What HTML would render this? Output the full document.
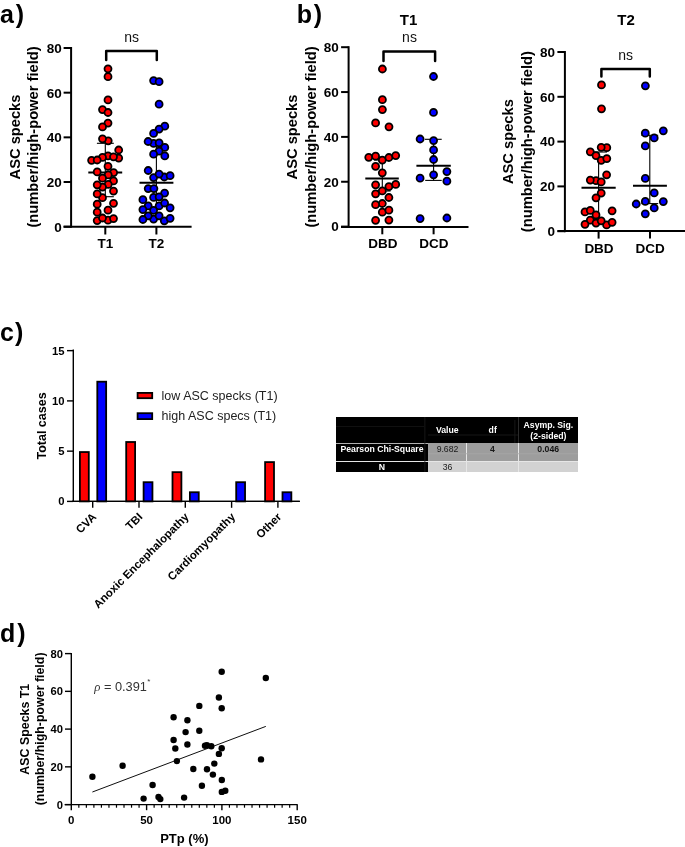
<!DOCTYPE html>
<html><head><meta charset="utf-8"><style>
html,body{margin:0;padding:0;background:#fff;}
svg{display:block;font-family:"Liberation Sans", sans-serif;will-change:transform;}
</style></head><body>
<svg width="685" height="847" viewBox="0 0 685 847">
<rect width="685" height="847" fill="#fff"/>
<text x="0.0" y="22.7" font-size="25" font-weight="bold" text-anchor="start" fill="#000" >a<tspan dx="1.8">)</tspan></text>
<line x1="71.1" y1="47.0" x2="71.1" y2="227.7" stroke="#000" stroke-width="2"/>
<line x1="63.599999999999994" y1="226.7" x2="71.1" y2="226.7" stroke="#000" stroke-width="2"/>
<text x="61.8" y="231.56" font-size="13.5" font-weight="bold" text-anchor="end" fill="#000" >0</text>
<line x1="63.599999999999994" y1="182.02499999999998" x2="71.1" y2="182.02499999999998" stroke="#000" stroke-width="2"/>
<text x="61.8" y="186.885" font-size="13.5" font-weight="bold" text-anchor="end" fill="#000" >20</text>
<line x1="63.599999999999994" y1="137.35" x2="71.1" y2="137.35" stroke="#000" stroke-width="2"/>
<text x="61.8" y="142.20999999999998" font-size="13.5" font-weight="bold" text-anchor="end" fill="#000" >40</text>
<line x1="63.599999999999994" y1="92.67499999999998" x2="71.1" y2="92.67499999999998" stroke="#000" stroke-width="2"/>
<text x="61.8" y="97.53499999999998" font-size="13.5" font-weight="bold" text-anchor="end" fill="#000" >60</text>
<line x1="63.599999999999994" y1="48.0" x2="71.1" y2="48.0" stroke="#000" stroke-width="2"/>
<text x="61.8" y="52.86" font-size="13.5" font-weight="bold" text-anchor="end" fill="#000" >80</text>
<line x1="63.6" y1="226.7" x2="191.6" y2="226.7" stroke="#000" stroke-width="2"/>
<line x1="105.3" y1="226.7" x2="105.3" y2="234.5" stroke="#000" stroke-width="2"/>
<line x1="156.4" y1="226.7" x2="156.4" y2="234.5" stroke="#000" stroke-width="2"/>
<text x="105.3" y="248.3" font-size="13.5" font-weight="bold" text-anchor="middle" fill="#000" >T1</text>
<text x="156.4" y="248.3" font-size="13.5" font-weight="bold" text-anchor="middle" fill="#000" >T2</text>
<text x="0" y="0" font-size="14.7" font-weight="bold" text-anchor="middle" transform="translate(19.9,137.0) rotate(-90)">ASC specks</text>
<text x="0" y="0" font-size="14.7" font-weight="bold" text-anchor="middle" transform="translate(38.4,137.0) rotate(-90)">(number/high-power field)</text>
<path d="M106.2,60.0 V50.9 H156.8 V60.0" fill="none" stroke="#000" stroke-width="2.5" stroke-linejoin="round" stroke-linecap="round"/>
<text x="131.7" y="42.0" font-size="14" font-weight="normal" text-anchor="middle" fill="#111" >ns</text>
<line x1="105.3" y1="143.3" x2="105.3" y2="196.7" stroke="#000" stroke-width="1.1"/>
<line x1="96.9" y1="143.3" x2="113.8" y2="143.3" stroke="#000" stroke-width="1.1"/>
<line x1="96.9" y1="196.7" x2="113.8" y2="196.7" stroke="#000" stroke-width="1.1"/>
<line x1="156.4" y1="144.5" x2="156.4" y2="219" stroke="#000" stroke-width="1.1"/>
<line x1="148" y1="144.5" x2="165" y2="144.5" stroke="#000" stroke-width="1.1"/>
<line x1="148" y1="219" x2="165" y2="219" stroke="#000" stroke-width="1.1"/>
<line x1="88.3" y1="172.6" x2="122.2" y2="172.6" stroke="#000" stroke-width="2"/>
<line x1="139.5" y1="182.8" x2="173.4" y2="182.8" stroke="#000" stroke-width="2"/>
<circle cx="108.0" cy="68.85" r="3.5" fill="#ff0000" stroke="#000" stroke-width="1.8"/>
<circle cx="108.0" cy="76.7" r="3.5" fill="#ff0000" stroke="#000" stroke-width="1.8"/>
<circle cx="108.0" cy="99.9" r="3.5" fill="#ff0000" stroke="#000" stroke-width="1.8"/>
<circle cx="102.5" cy="109.6" r="3.5" fill="#ff0000" stroke="#000" stroke-width="1.8"/>
<circle cx="108.0" cy="112.5" r="3.5" fill="#ff0000" stroke="#000" stroke-width="1.8"/>
<circle cx="108.0" cy="123.1" r="3.5" fill="#ff0000" stroke="#000" stroke-width="1.8"/>
<circle cx="102.5" cy="126.9" r="3.5" fill="#ff0000" stroke="#000" stroke-width="1.8"/>
<circle cx="108.2" cy="140.8" r="3.5" fill="#ff0000" stroke="#000" stroke-width="1.8"/>
<circle cx="102.5" cy="138.8" r="3.5" fill="#ff0000" stroke="#000" stroke-width="1.8"/>
<circle cx="108.0" cy="155.9" r="3.5" fill="#ff0000" stroke="#000" stroke-width="1.8"/>
<circle cx="102.5" cy="157.4" r="3.5" fill="#ff0000" stroke="#000" stroke-width="1.8"/>
<circle cx="91.6" cy="160.3" r="3.5" fill="#ff0000" stroke="#000" stroke-width="1.8"/>
<circle cx="97.2" cy="160.0" r="3.5" fill="#ff0000" stroke="#000" stroke-width="1.8"/>
<circle cx="118.7" cy="158.1" r="3.5" fill="#ff0000" stroke="#000" stroke-width="1.8"/>
<circle cx="113.5" cy="156.8" r="3.5" fill="#ff0000" stroke="#000" stroke-width="1.8"/>
<circle cx="118.7" cy="150.0" r="3.5" fill="#ff0000" stroke="#000" stroke-width="1.8"/>
<circle cx="108.0" cy="166.3" r="3.5" fill="#ff0000" stroke="#000" stroke-width="1.8"/>
<circle cx="97.2" cy="171.9" r="3.5" fill="#ff0000" stroke="#000" stroke-width="1.8"/>
<circle cx="113.6" cy="172.6" r="3.5" fill="#ff0000" stroke="#000" stroke-width="1.8"/>
<circle cx="108.2" cy="174.9" r="3.5" fill="#ff0000" stroke="#000" stroke-width="1.8"/>
<circle cx="102.5" cy="178.2" r="3.5" fill="#ff0000" stroke="#000" stroke-width="1.8"/>
<circle cx="113.5" cy="180.9" r="3.5" fill="#ff0000" stroke="#000" stroke-width="1.8"/>
<circle cx="108.2" cy="184.4" r="3.5" fill="#ff0000" stroke="#000" stroke-width="1.8"/>
<circle cx="102.5" cy="187.1" r="3.5" fill="#ff0000" stroke="#000" stroke-width="1.8"/>
<circle cx="97.2" cy="184.8" r="3.5" fill="#ff0000" stroke="#000" stroke-width="1.8"/>
<circle cx="113.5" cy="191.1" r="3.5" fill="#ff0000" stroke="#000" stroke-width="1.8"/>
<circle cx="102.5" cy="197.7" r="3.5" fill="#ff0000" stroke="#000" stroke-width="1.8"/>
<circle cx="97.2" cy="193.9" r="3.5" fill="#ff0000" stroke="#000" stroke-width="1.8"/>
<circle cx="97.2" cy="204.2" r="3.5" fill="#ff0000" stroke="#000" stroke-width="1.8"/>
<circle cx="113.5" cy="203.3" r="3.5" fill="#ff0000" stroke="#000" stroke-width="1.8"/>
<circle cx="108.0" cy="210.2" r="3.5" fill="#ff0000" stroke="#000" stroke-width="1.8"/>
<circle cx="97.2" cy="212.2" r="3.5" fill="#ff0000" stroke="#000" stroke-width="1.8"/>
<circle cx="108.0" cy="220.2" r="3.5" fill="#ff0000" stroke="#000" stroke-width="1.8"/>
<circle cx="97.2" cy="220.6" r="3.5" fill="#ff0000" stroke="#000" stroke-width="1.8"/>
<circle cx="102.5" cy="218.0" r="3.5" fill="#ff0000" stroke="#000" stroke-width="1.8"/>
<circle cx="113.5" cy="218.6" r="3.5" fill="#ff0000" stroke="#000" stroke-width="1.8"/>
<circle cx="153.6" cy="80.6" r="3.5" fill="#0000ff" stroke="#000" stroke-width="1.8"/>
<circle cx="159.1" cy="81.7" r="3.5" fill="#0000ff" stroke="#000" stroke-width="1.8"/>
<circle cx="159.1" cy="104.2" r="3.5" fill="#0000ff" stroke="#000" stroke-width="1.8"/>
<circle cx="164.8" cy="126.2" r="3.5" fill="#0000ff" stroke="#000" stroke-width="1.8"/>
<circle cx="159.1" cy="129.1" r="3.5" fill="#0000ff" stroke="#000" stroke-width="1.8"/>
<circle cx="153.6" cy="133.4" r="3.5" fill="#0000ff" stroke="#000" stroke-width="1.8"/>
<circle cx="153.6" cy="143.4" r="3.5" fill="#0000ff" stroke="#000" stroke-width="1.8"/>
<circle cx="148.1" cy="141.5" r="3.5" fill="#0000ff" stroke="#000" stroke-width="1.8"/>
<circle cx="159.1" cy="142.8" r="3.5" fill="#0000ff" stroke="#000" stroke-width="1.8"/>
<circle cx="164.8" cy="147.4" r="3.5" fill="#0000ff" stroke="#000" stroke-width="1.8"/>
<circle cx="159.1" cy="151.2" r="3.5" fill="#0000ff" stroke="#000" stroke-width="1.8"/>
<circle cx="153.6" cy="154.2" r="3.5" fill="#0000ff" stroke="#000" stroke-width="1.8"/>
<circle cx="164.8" cy="155.9" r="3.5" fill="#0000ff" stroke="#000" stroke-width="1.8"/>
<circle cx="148.2" cy="170.5" r="3.5" fill="#0000ff" stroke="#000" stroke-width="1.8"/>
<circle cx="153.6" cy="177.6" r="3.5" fill="#0000ff" stroke="#000" stroke-width="1.8"/>
<circle cx="164.3" cy="177.0" r="3.5" fill="#0000ff" stroke="#000" stroke-width="1.8"/>
<circle cx="159.1" cy="174.1" r="3.5" fill="#0000ff" stroke="#000" stroke-width="1.8"/>
<circle cx="170.1" cy="175.7" r="3.5" fill="#0000ff" stroke="#000" stroke-width="1.8"/>
<circle cx="148.2" cy="188.6" r="3.5" fill="#0000ff" stroke="#000" stroke-width="1.8"/>
<circle cx="153.9" cy="188.6" r="3.5" fill="#0000ff" stroke="#000" stroke-width="1.8"/>
<circle cx="164.6" cy="193.1" r="3.5" fill="#0000ff" stroke="#000" stroke-width="1.8"/>
<circle cx="153.6" cy="197.4" r="3.5" fill="#0000ff" stroke="#000" stroke-width="1.8"/>
<circle cx="159.1" cy="196.8" r="3.5" fill="#0000ff" stroke="#000" stroke-width="1.8"/>
<circle cx="142.9" cy="199.7" r="3.5" fill="#0000ff" stroke="#000" stroke-width="1.8"/>
<circle cx="148.2" cy="205.9" r="3.5" fill="#0000ff" stroke="#000" stroke-width="1.8"/>
<circle cx="159.1" cy="205.9" r="3.5" fill="#0000ff" stroke="#000" stroke-width="1.8"/>
<circle cx="164.6" cy="203.0" r="3.5" fill="#0000ff" stroke="#000" stroke-width="1.8"/>
<circle cx="170.1" cy="207.8" r="3.5" fill="#0000ff" stroke="#000" stroke-width="1.8"/>
<circle cx="142.9" cy="209.6" r="3.5" fill="#0000ff" stroke="#000" stroke-width="1.8"/>
<circle cx="153.6" cy="210.3" r="3.5" fill="#0000ff" stroke="#000" stroke-width="1.8"/>
<circle cx="164.3" cy="220.8" r="3.5" fill="#0000ff" stroke="#000" stroke-width="1.8"/>
<circle cx="153.6" cy="219.1" r="3.5" fill="#0000ff" stroke="#000" stroke-width="1.8"/>
<circle cx="148.2" cy="215.8" r="3.5" fill="#0000ff" stroke="#000" stroke-width="1.8"/>
<circle cx="159.1" cy="215.8" r="3.5" fill="#0000ff" stroke="#000" stroke-width="1.8"/>
<circle cx="142.9" cy="219.5" r="3.5" fill="#0000ff" stroke="#000" stroke-width="1.8"/>
<circle cx="170.1" cy="218.3" r="3.5" fill="#0000ff" stroke="#000" stroke-width="1.8"/>
<text x="296.8" y="23.0" font-size="25" font-weight="bold" text-anchor="start" fill="#000" >b<tspan dx="1.6">)</tspan></text>
<line x1="348.6" y1="46.2" x2="348.6" y2="227.6" stroke="#000" stroke-width="2"/>
<line x1="341.1" y1="226.6" x2="348.6" y2="226.6" stroke="#000" stroke-width="2"/>
<text x="338.8" y="231.45999999999998" font-size="13.5" font-weight="bold" text-anchor="end" fill="#000" >0</text>
<line x1="341.1" y1="181.75" x2="348.6" y2="181.75" stroke="#000" stroke-width="2"/>
<text x="338.8" y="186.61" font-size="13.5" font-weight="bold" text-anchor="end" fill="#000" >20</text>
<line x1="341.1" y1="136.9" x2="348.6" y2="136.9" stroke="#000" stroke-width="2"/>
<text x="338.8" y="141.76" font-size="13.5" font-weight="bold" text-anchor="end" fill="#000" >40</text>
<line x1="341.1" y1="92.05000000000001" x2="348.6" y2="92.05000000000001" stroke="#000" stroke-width="2"/>
<text x="338.8" y="96.91000000000001" font-size="13.5" font-weight="bold" text-anchor="end" fill="#000" >60</text>
<line x1="341.1" y1="47.20000000000002" x2="348.6" y2="47.20000000000002" stroke="#000" stroke-width="2"/>
<text x="338.8" y="52.06000000000002" font-size="13.5" font-weight="bold" text-anchor="end" fill="#000" >80</text>
<line x1="341.0" y1="226.9" x2="468.5" y2="226.9" stroke="#000" stroke-width="2"/>
<line x1="382.3" y1="226.6" x2="382.3" y2="234.3" stroke="#000" stroke-width="2"/>
<line x1="433.6" y1="226.6" x2="433.6" y2="234.3" stroke="#000" stroke-width="2"/>
<text x="382.9" y="248.4" font-size="13.5" font-weight="bold" text-anchor="middle" fill="#000" >DBD</text>
<text x="433.8" y="248.4" font-size="13.5" font-weight="bold" text-anchor="middle" fill="#000" >DCD</text>
<text x="0" y="0" font-size="14.7" font-weight="bold" text-anchor="middle" transform="translate(297.0,137.0) rotate(-90)">ASC specks</text>
<text x="0" y="0" font-size="14.7" font-weight="bold" text-anchor="middle" transform="translate(315.7,137.0) rotate(-90)">(number/high-power field)</text>
<text x="408.5" y="25.3" font-size="15" font-weight="bold" text-anchor="middle" fill="#000" >T1</text>
<path d="M383.5,61.0 V51.4 H435.1 V61.0" fill="none" stroke="#000" stroke-width="2.5" stroke-linejoin="round" stroke-linecap="round"/>
<text x="409.5" y="42.0" font-size="14" font-weight="normal" text-anchor="middle" fill="#111" >ns</text>
<line x1="382.3" y1="160" x2="382.3" y2="191" stroke="#000" stroke-width="1.1"/>
<line x1="374" y1="160" x2="390.6" y2="160" stroke="#000" stroke-width="1.1"/>
<line x1="374" y1="191" x2="390.6" y2="191" stroke="#000" stroke-width="1.1"/>
<line x1="433.6" y1="139.3" x2="433.6" y2="180.4" stroke="#000" stroke-width="1.1"/>
<line x1="424.9" y1="139.3" x2="441.7" y2="139.3" stroke="#000" stroke-width="1.1"/>
<line x1="425.2" y1="180.4" x2="441.7" y2="180.4" stroke="#000" stroke-width="1.1"/>
<line x1="365.3" y1="178.5" x2="398.8" y2="178.5" stroke="#000" stroke-width="2"/>
<line x1="416.4" y1="165.8" x2="450.8" y2="165.8" stroke="#000" stroke-width="2"/>
<circle cx="382.4" cy="69.0" r="3.5" fill="#ff0000" stroke="#000" stroke-width="1.8"/>
<circle cx="382.4" cy="99.7" r="3.5" fill="#ff0000" stroke="#000" stroke-width="1.8"/>
<circle cx="382.4" cy="109.6" r="3.5" fill="#ff0000" stroke="#000" stroke-width="1.8"/>
<circle cx="375.6" cy="122.9" r="3.5" fill="#ff0000" stroke="#000" stroke-width="1.8"/>
<circle cx="389.0" cy="126.8" r="3.5" fill="#ff0000" stroke="#000" stroke-width="1.8"/>
<circle cx="382.3" cy="160.1" r="3.5" fill="#ff0000" stroke="#000" stroke-width="1.8"/>
<circle cx="368.75" cy="157.3" r="3.5" fill="#ff0000" stroke="#000" stroke-width="1.8"/>
<circle cx="375.6" cy="156.2" r="3.5" fill="#ff0000" stroke="#000" stroke-width="1.8"/>
<circle cx="388.9" cy="157.5" r="3.5" fill="#ff0000" stroke="#000" stroke-width="1.8"/>
<circle cx="395.7" cy="155.6" r="3.5" fill="#ff0000" stroke="#000" stroke-width="1.8"/>
<circle cx="375.6" cy="166.3" r="3.5" fill="#ff0000" stroke="#000" stroke-width="1.8"/>
<circle cx="382.3" cy="172.8" r="3.5" fill="#ff0000" stroke="#000" stroke-width="1.8"/>
<circle cx="375.6" cy="184.8" r="3.5" fill="#ff0000" stroke="#000" stroke-width="1.8"/>
<circle cx="388.9" cy="186.6" r="3.5" fill="#ff0000" stroke="#000" stroke-width="1.8"/>
<circle cx="395.7" cy="184.4" r="3.5" fill="#ff0000" stroke="#000" stroke-width="1.8"/>
<circle cx="382.3" cy="190.9" r="3.5" fill="#ff0000" stroke="#000" stroke-width="1.8"/>
<circle cx="375.6" cy="193.8" r="3.5" fill="#ff0000" stroke="#000" stroke-width="1.8"/>
<circle cx="388.9" cy="197.5" r="3.5" fill="#ff0000" stroke="#000" stroke-width="1.8"/>
<circle cx="382.3" cy="203.5" r="3.5" fill="#ff0000" stroke="#000" stroke-width="1.8"/>
<circle cx="375.6" cy="204.7" r="3.5" fill="#ff0000" stroke="#000" stroke-width="1.8"/>
<circle cx="382.3" cy="212.2" r="3.5" fill="#ff0000" stroke="#000" stroke-width="1.8"/>
<circle cx="388.9" cy="210.2" r="3.5" fill="#ff0000" stroke="#000" stroke-width="1.8"/>
<circle cx="375.6" cy="220.3" r="3.5" fill="#ff0000" stroke="#000" stroke-width="1.8"/>
<circle cx="388.9" cy="220.1" r="3.5" fill="#ff0000" stroke="#000" stroke-width="1.8"/>
<circle cx="433.5" cy="76.5" r="3.5" fill="#0000ff" stroke="#000" stroke-width="1.8"/>
<circle cx="433.5" cy="112.4" r="3.5" fill="#0000ff" stroke="#000" stroke-width="1.8"/>
<circle cx="420.1" cy="139.0" r="3.5" fill="#0000ff" stroke="#000" stroke-width="1.8"/>
<circle cx="433.6" cy="140.6" r="3.5" fill="#0000ff" stroke="#000" stroke-width="1.8"/>
<circle cx="433.6" cy="149.9" r="3.5" fill="#0000ff" stroke="#000" stroke-width="1.8"/>
<circle cx="433.6" cy="159.5" r="3.5" fill="#0000ff" stroke="#000" stroke-width="1.8"/>
<circle cx="446.9" cy="171.6" r="3.5" fill="#0000ff" stroke="#000" stroke-width="1.8"/>
<circle cx="433.6" cy="174.8" r="3.5" fill="#0000ff" stroke="#000" stroke-width="1.8"/>
<circle cx="420.1" cy="178.2" r="3.5" fill="#0000ff" stroke="#000" stroke-width="1.8"/>
<circle cx="446.9" cy="181.2" r="3.5" fill="#0000ff" stroke="#000" stroke-width="1.8"/>
<circle cx="420.1" cy="218.6" r="3.5" fill="#0000ff" stroke="#000" stroke-width="1.8"/>
<circle cx="446.9" cy="218.0" r="3.5" fill="#0000ff" stroke="#000" stroke-width="1.8"/>
<line x1="564.9" y1="51.0" x2="564.9" y2="232.2" stroke="#000" stroke-width="2"/>
<line x1="557.4" y1="231.2" x2="564.9" y2="231.2" stroke="#000" stroke-width="2"/>
<text x="555.0" y="236.06" font-size="13.5" font-weight="bold" text-anchor="end" fill="#000" >0</text>
<line x1="557.4" y1="186.39999999999998" x2="564.9" y2="186.39999999999998" stroke="#000" stroke-width="2"/>
<text x="555.0" y="191.26" font-size="13.5" font-weight="bold" text-anchor="end" fill="#000" >20</text>
<line x1="557.4" y1="141.6" x2="564.9" y2="141.6" stroke="#000" stroke-width="2"/>
<text x="555.0" y="146.45999999999998" font-size="13.5" font-weight="bold" text-anchor="end" fill="#000" >40</text>
<line x1="557.4" y1="96.79999999999998" x2="564.9" y2="96.79999999999998" stroke="#000" stroke-width="2"/>
<text x="555.0" y="101.65999999999998" font-size="13.5" font-weight="bold" text-anchor="end" fill="#000" >60</text>
<line x1="557.4" y1="52.0" x2="564.9" y2="52.0" stroke="#000" stroke-width="2"/>
<text x="555.0" y="56.86" font-size="13.5" font-weight="bold" text-anchor="end" fill="#000" >80</text>
<line x1="557.5" y1="231.1" x2="685" y2="231.1" stroke="#000" stroke-width="2"/>
<line x1="598.6" y1="231.1" x2="598.6" y2="238.6" stroke="#000" stroke-width="2"/>
<line x1="650.0" y1="231.1" x2="650.0" y2="238.6" stroke="#000" stroke-width="2"/>
<text x="599.0" y="253.0" font-size="13.5" font-weight="bold" text-anchor="middle" fill="#000" >DBD</text>
<text x="650.2" y="253.0" font-size="13.5" font-weight="bold" text-anchor="middle" fill="#000" >DCD</text>
<text x="0" y="0" font-size="14.7" font-weight="bold" text-anchor="middle" transform="translate(513.2,141.6) rotate(-90)">ASC specks</text>
<text x="0" y="0" font-size="14.7" font-weight="bold" text-anchor="middle" transform="translate(532.1,141.6) rotate(-90)">(number/high-power field)</text>
<text x="626.0" y="25.3" font-size="15" font-weight="bold" text-anchor="middle" fill="#000" >T2</text>
<path d="M601.4,76.4 V69.0 H649.8 V76.4" fill="none" stroke="#000" stroke-width="2.5" stroke-linejoin="round" stroke-linecap="round"/>
<text x="625.6" y="60.2" font-size="14" font-weight="normal" text-anchor="middle" fill="#111" >ns</text>
<line x1="598.6" y1="152" x2="598.6" y2="223" stroke="#000" stroke-width="1.1"/>
<line x1="590" y1="152" x2="607" y2="152" stroke="#000" stroke-width="1.1"/>
<line x1="590" y1="223" x2="607" y2="223" stroke="#000" stroke-width="1.1"/>
<line x1="649.8" y1="135.3" x2="649.8" y2="203.6" stroke="#000" stroke-width="1.1"/>
<line x1="641.4" y1="135.3" x2="658.2" y2="135.3" stroke="#000" stroke-width="1.1"/>
<line x1="641.4" y1="203.6" x2="658.2" y2="203.6" stroke="#000" stroke-width="1.1"/>
<line x1="581.5" y1="187.8" x2="615.7" y2="187.8" stroke="#000" stroke-width="2"/>
<line x1="633.0" y1="185.8" x2="666.9" y2="185.8" stroke="#000" stroke-width="2"/>
<circle cx="601.5" cy="84.9" r="3.5" fill="#ff0000" stroke="#000" stroke-width="1.8"/>
<circle cx="601.5" cy="108.8" r="3.5" fill="#ff0000" stroke="#000" stroke-width="1.8"/>
<circle cx="606.8" cy="147.7" r="3.5" fill="#ff0000" stroke="#000" stroke-width="1.8"/>
<circle cx="601.2" cy="147.3" r="3.5" fill="#ff0000" stroke="#000" stroke-width="1.8"/>
<circle cx="590.3" cy="151.8" r="3.5" fill="#ff0000" stroke="#000" stroke-width="1.8"/>
<circle cx="596.0" cy="155.6" r="3.5" fill="#ff0000" stroke="#000" stroke-width="1.8"/>
<circle cx="601.2" cy="160.3" r="3.5" fill="#ff0000" stroke="#000" stroke-width="1.8"/>
<circle cx="606.8" cy="158.6" r="3.5" fill="#ff0000" stroke="#000" stroke-width="1.8"/>
<circle cx="606.6" cy="174.8" r="3.5" fill="#ff0000" stroke="#000" stroke-width="1.8"/>
<circle cx="596.0" cy="180.7" r="3.5" fill="#ff0000" stroke="#000" stroke-width="1.8"/>
<circle cx="590.3" cy="180.1" r="3.5" fill="#ff0000" stroke="#000" stroke-width="1.8"/>
<circle cx="601.2" cy="181.9" r="3.5" fill="#ff0000" stroke="#000" stroke-width="1.8"/>
<circle cx="601.2" cy="193.1" r="3.5" fill="#ff0000" stroke="#000" stroke-width="1.8"/>
<circle cx="596.0" cy="197.8" r="3.5" fill="#ff0000" stroke="#000" stroke-width="1.8"/>
<circle cx="585.0" cy="211.9" r="3.5" fill="#ff0000" stroke="#000" stroke-width="1.8"/>
<circle cx="590.3" cy="210.4" r="3.5" fill="#ff0000" stroke="#000" stroke-width="1.8"/>
<circle cx="596.0" cy="214.9" r="3.5" fill="#ff0000" stroke="#000" stroke-width="1.8"/>
<circle cx="612.1" cy="210.8" r="3.5" fill="#ff0000" stroke="#000" stroke-width="1.8"/>
<circle cx="590.3" cy="220.2" r="3.5" fill="#ff0000" stroke="#000" stroke-width="1.8"/>
<circle cx="585.0" cy="224.3" r="3.5" fill="#ff0000" stroke="#000" stroke-width="1.8"/>
<circle cx="596.0" cy="223.1" r="3.5" fill="#ff0000" stroke="#000" stroke-width="1.8"/>
<circle cx="606.6" cy="224.9" r="3.5" fill="#ff0000" stroke="#000" stroke-width="1.8"/>
<circle cx="601.2" cy="220.8" r="3.5" fill="#ff0000" stroke="#000" stroke-width="1.8"/>
<circle cx="612.1" cy="222.3" r="3.5" fill="#ff0000" stroke="#000" stroke-width="1.8"/>
<circle cx="645.4" cy="85.8" r="3.5" fill="#0000ff" stroke="#000" stroke-width="1.8"/>
<circle cx="645.3" cy="133.2" r="3.5" fill="#0000ff" stroke="#000" stroke-width="1.8"/>
<circle cx="663.3" cy="130.8" r="3.5" fill="#0000ff" stroke="#000" stroke-width="1.8"/>
<circle cx="654.2" cy="137.9" r="3.5" fill="#0000ff" stroke="#000" stroke-width="1.8"/>
<circle cx="645.3" cy="145.9" r="3.5" fill="#0000ff" stroke="#000" stroke-width="1.8"/>
<circle cx="645.3" cy="178.4" r="3.5" fill="#0000ff" stroke="#000" stroke-width="1.8"/>
<circle cx="654.2" cy="192.9" r="3.5" fill="#0000ff" stroke="#000" stroke-width="1.8"/>
<circle cx="645.3" cy="201.4" r="3.5" fill="#0000ff" stroke="#000" stroke-width="1.8"/>
<circle cx="636.2" cy="204.0" r="3.5" fill="#0000ff" stroke="#000" stroke-width="1.8"/>
<circle cx="663.3" cy="201.6" r="3.5" fill="#0000ff" stroke="#000" stroke-width="1.8"/>
<circle cx="654.2" cy="207.9" r="3.5" fill="#0000ff" stroke="#000" stroke-width="1.8"/>
<circle cx="645.3" cy="213.8" r="3.5" fill="#0000ff" stroke="#000" stroke-width="1.8"/>
<text x="0.0" y="341.4" font-size="25" font-weight="bold" text-anchor="start" fill="#000" >c<tspan dx="1.2">)</tspan></text>
<line x1="73.3" y1="349.5" x2="73.3" y2="501.8" stroke="#000" stroke-width="1.4"/>
<line x1="67.0" y1="501.4" x2="73.3" y2="501.4" stroke="#000" stroke-width="1.4"/>
<text x="64.6" y="505.4" font-size="11.3" font-weight="bold" text-anchor="end" fill="#000" >0</text>
<line x1="67.0" y1="451.15" x2="73.3" y2="451.15" stroke="#000" stroke-width="1.4"/>
<text x="64.6" y="455.15" font-size="11.3" font-weight="bold" text-anchor="end" fill="#000" >5</text>
<line x1="67.0" y1="400.9" x2="73.3" y2="400.9" stroke="#000" stroke-width="1.4"/>
<text x="64.6" y="404.9" font-size="11.3" font-weight="bold" text-anchor="end" fill="#000" >10</text>
<line x1="67.0" y1="350.65" x2="73.3" y2="350.65" stroke="#000" stroke-width="1.4"/>
<text x="64.6" y="354.65" font-size="11.3" font-weight="bold" text-anchor="end" fill="#000" >15</text>
<line x1="72.1" y1="501.4" x2="299.8" y2="501.4" stroke="#000" stroke-width="1.4"/>
<line x1="92.7" y1="501.4" x2="92.7" y2="507.8" stroke="#000" stroke-width="1.4"/>
<rect x="79.90" y="452.05" width="8.90" height="49.35" fill="#ff0000" stroke="#000" stroke-width="1.8"/>
<rect x="97.30" y="381.70" width="8.85" height="119.70" fill="#0000ff" stroke="#000" stroke-width="1.8"/>
<text x="0" y="0" font-size="11.4" font-weight="bold" text-anchor="end" transform="translate(97.0,517.6) rotate(-45)">CVA</text>
<line x1="139.0" y1="501.4" x2="139.0" y2="507.8" stroke="#000" stroke-width="1.4"/>
<rect x="126.20" y="442.00" width="8.90" height="59.40" fill="#ff0000" stroke="#000" stroke-width="1.8"/>
<rect x="143.60" y="482.20" width="8.85" height="19.20" fill="#0000ff" stroke="#000" stroke-width="1.8"/>
<text x="0" y="0" font-size="11.4" font-weight="bold" text-anchor="end" transform="translate(143.3,517.6) rotate(-45)">TBI</text>
<line x1="185.3" y1="501.4" x2="185.3" y2="507.8" stroke="#000" stroke-width="1.4"/>
<rect x="172.50" y="472.15" width="8.90" height="29.25" fill="#ff0000" stroke="#000" stroke-width="1.8"/>
<rect x="189.90" y="492.25" width="8.85" height="9.15" fill="#0000ff" stroke="#000" stroke-width="1.8"/>
<text x="0" y="0" font-size="11.4" font-weight="bold" text-anchor="end" transform="translate(189.60000000000002,517.6) rotate(-45)">Anoxic Encephalopathy</text>
<line x1="231.6" y1="501.4" x2="231.6" y2="507.8" stroke="#000" stroke-width="1.4"/>
<rect x="236.20" y="482.20" width="8.85" height="19.20" fill="#0000ff" stroke="#000" stroke-width="1.8"/>
<text x="0" y="0" font-size="11.4" font-weight="bold" text-anchor="end" transform="translate(235.9,517.6) rotate(-45)">Cardiomyopathy</text>
<line x1="277.9" y1="501.4" x2="277.9" y2="507.8" stroke="#000" stroke-width="1.4"/>
<rect x="265.10" y="462.10" width="8.90" height="39.30" fill="#ff0000" stroke="#000" stroke-width="1.8"/>
<rect x="282.50" y="492.25" width="8.85" height="9.15" fill="#0000ff" stroke="#000" stroke-width="1.8"/>
<text x="0" y="0" font-size="11.4" font-weight="bold" text-anchor="end" transform="translate(282.2,517.6) rotate(-45)">Other</text>
<line x1="72.1" y1="501.4" x2="299.8" y2="501.4" stroke="#000" stroke-width="1.4"/>
<text x="0" y="0" font-size="12.5" font-weight="bold" text-anchor="middle" transform="translate(45.6,426.0) rotate(-90)">Total cases</text>
<rect x="137.6" y="392.9" width="14.6" height="5.3" fill="#ff0000" stroke="#000" stroke-width="1.8"/>
<rect x="137.6" y="413.2" width="14.6" height="5.9" fill="#0000ff" stroke="#000" stroke-width="1.8"/>
<text x="161.6" y="399.6" font-size="12.5" font-weight="normal" text-anchor="start" fill="#222" >low ASC specks (T1)</text>
<text x="161.6" y="420.0" font-size="12.5" font-weight="normal" text-anchor="start" fill="#222" >high ASC specs (T1)</text>
<rect x="336" y="417" width="242" height="55" fill="#000"/>
<rect x="428" y="443" width="150" height="18" fill="#9d9d9d"/>
<rect x="428" y="462" width="150" height="10" fill="#d2d2d2"/>
<rect x="336" y="443" width="92" height="1" fill="#b0b0b0"/>
<rect x="336" y="461" width="242" height="1" fill="#e6e6e6"/>
<rect x="466" y="443" width="1" height="29" fill="#e6e6e6"/>
<rect x="518" y="443" width="1" height="29" fill="#e6e6e6"/>
<rect x="518" y="417" width="1" height="26" fill="#2a2a2a"/>
<rect x="424.5" y="417" width="0.8" height="55" fill="#1c1c1c"/>
<rect x="514.5" y="420" width="0.8" height="23" fill="#1c1c1c"/>
<rect x="428" y="434.6" width="90" height="0.8" fill="#1c1c1c"/>
<rect x="336" y="426" width="88" height="0.8" fill="#151515"/>
<rect x="428" y="453.4" width="150" height="0.8" fill="#a8a8a8"/>
<text x="382.0" y="452.2" font-size="8.7" font-weight="bold" text-anchor="middle" fill="#fff" >Pearson Chi-Square</text>
<text x="382.0" y="469.8" font-size="8.7" font-weight="bold" text-anchor="middle" fill="#fff" >N</text>
<text x="447.3" y="433.4" font-size="8.7" font-weight="bold" text-anchor="middle" fill="#fff" >Value</text>
<text x="492.7" y="433.4" font-size="8.7" font-weight="bold" text-anchor="middle" fill="#fff" >df</text>
<text x="548.4" y="427.6" font-size="8.7" font-weight="bold" text-anchor="middle" fill="#fff" >Asymp. Sig.</text>
<text x="548.4" y="438.9" font-size="8.7" font-weight="bold" text-anchor="middle" fill="#fff" >(2-sided)</text>
<text x="447.5" y="452.2" font-size="8.7" font-weight="normal" text-anchor="middle" fill="#1a1a1a" >9.682</text>
<text x="492.5" y="452.2" font-size="8.7" font-weight="bold" text-anchor="middle" fill="#1a1a1a" >4</text>
<text x="548.2" y="452.0" font-size="8.7" font-weight="bold" text-anchor="middle" fill="#111" >0.046</text>
<text x="447.5" y="470.2" font-size="8.7" font-weight="normal" text-anchor="middle" fill="#1a1a1a" >36</text>
<text x="0.0" y="641.6" font-size="25" font-weight="bold" text-anchor="start" fill="#000" >d<tspan dx="2.0">)</tspan></text>
<line x1="71.3" y1="652.9" x2="71.3" y2="805.0" stroke="#000" stroke-width="1.4"/>
<line x1="65.0" y1="804.6" x2="71.3" y2="804.6" stroke="#000" stroke-width="1.4"/>
<text x="63.0" y="808.6" font-size="11.2" font-weight="bold" text-anchor="end" fill="#000" >0</text>
<line x1="65.0" y1="766.85" x2="71.3" y2="766.85" stroke="#000" stroke-width="1.4"/>
<text x="63.0" y="770.85" font-size="11.2" font-weight="bold" text-anchor="end" fill="#000" >20</text>
<line x1="65.0" y1="729.1" x2="71.3" y2="729.1" stroke="#000" stroke-width="1.4"/>
<text x="63.0" y="733.1" font-size="11.2" font-weight="bold" text-anchor="end" fill="#000" >40</text>
<line x1="65.0" y1="691.35" x2="71.3" y2="691.35" stroke="#000" stroke-width="1.4"/>
<text x="63.0" y="695.35" font-size="11.2" font-weight="bold" text-anchor="end" fill="#000" >60</text>
<line x1="65.0" y1="653.6" x2="71.3" y2="653.6" stroke="#000" stroke-width="1.4"/>
<text x="63.0" y="657.6" font-size="11.2" font-weight="bold" text-anchor="end" fill="#000" >80</text>
<line x1="64.6" y1="804.6" x2="297.6" y2="804.6" stroke="#000" stroke-width="1.4"/>
<line x1="71.3" y1="804.6" x2="71.3" y2="810.2" stroke="#000" stroke-width="1.4"/>
<text x="71.3" y="823.6" font-size="11.5" font-weight="bold" text-anchor="middle" fill="#000" >0</text>
<line x1="78.83" y1="804.6" x2="78.83" y2="807.7" stroke="#000" stroke-width="1.2"/>
<line x1="86.36" y1="804.6" x2="86.36" y2="807.7" stroke="#000" stroke-width="1.2"/>
<line x1="93.89" y1="804.6" x2="93.89" y2="807.7" stroke="#000" stroke-width="1.2"/>
<line x1="101.42" y1="804.6" x2="101.42" y2="807.7" stroke="#000" stroke-width="1.2"/>
<line x1="108.94999999999999" y1="804.6" x2="108.94999999999999" y2="807.7" stroke="#000" stroke-width="1.2"/>
<line x1="116.47999999999999" y1="804.6" x2="116.47999999999999" y2="807.7" stroke="#000" stroke-width="1.2"/>
<line x1="124.00999999999999" y1="804.6" x2="124.00999999999999" y2="807.7" stroke="#000" stroke-width="1.2"/>
<line x1="131.54" y1="804.6" x2="131.54" y2="807.7" stroke="#000" stroke-width="1.2"/>
<line x1="139.07" y1="804.6" x2="139.07" y2="807.7" stroke="#000" stroke-width="1.2"/>
<line x1="146.6" y1="804.6" x2="146.6" y2="810.2" stroke="#000" stroke-width="1.4"/>
<text x="146.6" y="823.6" font-size="11.5" font-weight="bold" text-anchor="middle" fill="#000" >50</text>
<line x1="154.13" y1="804.6" x2="154.13" y2="807.7" stroke="#000" stroke-width="1.2"/>
<line x1="161.66" y1="804.6" x2="161.66" y2="807.7" stroke="#000" stroke-width="1.2"/>
<line x1="169.19" y1="804.6" x2="169.19" y2="807.7" stroke="#000" stroke-width="1.2"/>
<line x1="176.72" y1="804.6" x2="176.72" y2="807.7" stroke="#000" stroke-width="1.2"/>
<line x1="184.25" y1="804.6" x2="184.25" y2="807.7" stroke="#000" stroke-width="1.2"/>
<line x1="191.78" y1="804.6" x2="191.78" y2="807.7" stroke="#000" stroke-width="1.2"/>
<line x1="199.31" y1="804.6" x2="199.31" y2="807.7" stroke="#000" stroke-width="1.2"/>
<line x1="206.83999999999997" y1="804.6" x2="206.83999999999997" y2="807.7" stroke="#000" stroke-width="1.2"/>
<line x1="214.37" y1="804.6" x2="214.37" y2="807.7" stroke="#000" stroke-width="1.2"/>
<line x1="221.89999999999998" y1="804.6" x2="221.89999999999998" y2="810.2" stroke="#000" stroke-width="1.4"/>
<text x="221.89999999999998" y="823.6" font-size="11.5" font-weight="bold" text-anchor="middle" fill="#000" >100</text>
<line x1="229.43" y1="804.6" x2="229.43" y2="807.7" stroke="#000" stroke-width="1.2"/>
<line x1="236.95999999999998" y1="804.6" x2="236.95999999999998" y2="807.7" stroke="#000" stroke-width="1.2"/>
<line x1="244.49" y1="804.6" x2="244.49" y2="807.7" stroke="#000" stroke-width="1.2"/>
<line x1="252.01999999999998" y1="804.6" x2="252.01999999999998" y2="807.7" stroke="#000" stroke-width="1.2"/>
<line x1="259.55" y1="804.6" x2="259.55" y2="807.7" stroke="#000" stroke-width="1.2"/>
<line x1="267.08" y1="804.6" x2="267.08" y2="807.7" stroke="#000" stroke-width="1.2"/>
<line x1="274.61" y1="804.6" x2="274.61" y2="807.7" stroke="#000" stroke-width="1.2"/>
<line x1="282.14" y1="804.6" x2="282.14" y2="807.7" stroke="#000" stroke-width="1.2"/>
<line x1="289.67" y1="804.6" x2="289.67" y2="807.7" stroke="#000" stroke-width="1.2"/>
<line x1="297.2" y1="804.6" x2="297.2" y2="810.2" stroke="#000" stroke-width="1.4"/>
<text x="297.2" y="823.6" font-size="11.5" font-weight="bold" text-anchor="middle" fill="#000" >150</text>
<text x="184.4" y="842.6" font-size="13" font-weight="bold" text-anchor="middle" fill="#000" >PTp (%)</text>
<text x="0" y="0" font-size="12.4" font-weight="bold" text-anchor="middle" transform="translate(28.8,729.2) rotate(-90)">ASC Specks T1</text>
<text x="0" y="0" font-size="12.4" font-weight="bold" text-anchor="middle" transform="translate(43.5,728.9) rotate(-90)">(number/high-power field)</text>
<line x1="92.4" y1="792.0" x2="265.8" y2="726.4" stroke="#000" stroke-width="0.95"/>
<circle cx="92.4" cy="776.8" r="3.2" fill="#000"/>
<circle cx="122.6" cy="765.8" r="3.2" fill="#000"/>
<circle cx="152.6" cy="785.0" r="3.2" fill="#000"/>
<circle cx="143.6" cy="798.6" r="3.2" fill="#000"/>
<circle cx="158.5" cy="797.0" r="3.2" fill="#000"/>
<circle cx="160.3" cy="799.1" r="3.2" fill="#000"/>
<circle cx="184.1" cy="797.6" r="3.2" fill="#000"/>
<circle cx="173.6" cy="717.3" r="3.2" fill="#000"/>
<circle cx="187.4" cy="720.3" r="3.2" fill="#000"/>
<circle cx="185.6" cy="732.1" r="3.2" fill="#000"/>
<circle cx="173.6" cy="740.0" r="3.2" fill="#000"/>
<circle cx="187.4" cy="744.5" r="3.2" fill="#000"/>
<circle cx="175.3" cy="748.5" r="3.2" fill="#000"/>
<circle cx="176.9" cy="761.1" r="3.2" fill="#000"/>
<circle cx="193.3" cy="769.0" r="3.2" fill="#000"/>
<circle cx="199.3" cy="705.9" r="3.2" fill="#000"/>
<circle cx="199.3" cy="730.7" r="3.2" fill="#000"/>
<circle cx="221.7" cy="671.7" r="3.2" fill="#000"/>
<circle cx="265.8" cy="678.0" r="3.2" fill="#000"/>
<circle cx="218.9" cy="697.5" r="3.2" fill="#000"/>
<circle cx="221.7" cy="708.3" r="3.2" fill="#000"/>
<circle cx="205.0" cy="745.7" r="3.2" fill="#000"/>
<circle cx="206.9" cy="745.3" r="3.2" fill="#000"/>
<circle cx="211.3" cy="746.3" r="3.2" fill="#000"/>
<circle cx="221.7" cy="748.2" r="3.2" fill="#000"/>
<circle cx="218.9" cy="753.9" r="3.2" fill="#000"/>
<circle cx="261.0" cy="759.4" r="3.2" fill="#000"/>
<circle cx="207.0" cy="769.2" r="3.2" fill="#000"/>
<circle cx="212.9" cy="774.6" r="3.2" fill="#000"/>
<circle cx="214.3" cy="763.6" r="3.2" fill="#000"/>
<circle cx="221.8" cy="780.0" r="3.2" fill="#000"/>
<circle cx="221.8" cy="791.9" r="3.2" fill="#000"/>
<circle cx="225.3" cy="790.7" r="3.2" fill="#000"/>
<circle cx="201.9" cy="785.8" r="3.2" fill="#000"/>
<text x="94.2" y="691.2" font-size="12.8" fill="#333"><tspan font-family="Liberation Serif" font-style="italic">&#961;</tspan> = 0.391</text>
<text x="147.2" y="683.6" font-size="8" font-weight="normal" text-anchor="start" fill="#333" >*</text>
</svg>
</body></html>
